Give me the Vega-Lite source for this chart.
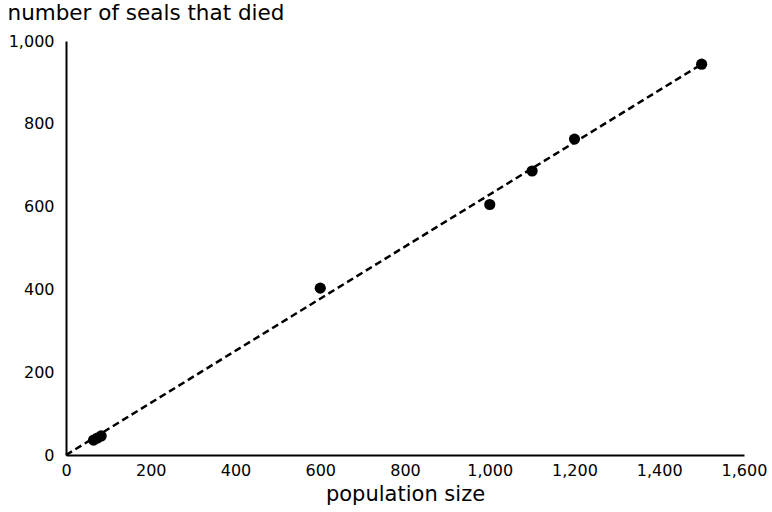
{
  "$schema": "https://vega.github.io/schema/vega-lite/v6.json",
  "width": 678,
  "height": 414,
  "autosize": "none",
  "padding": {"left": 66, "top": 41, "right": 28, "bottom": 57},
  "background": "white",
  "config": {
    "view": {"stroke": null},
    "font": "DejaVu Sans"
  },
  "datasets": {
    "seals": [
      {"population": 65, "died": 36},
      {"population": 74, "died": 41},
      {"population": 83, "died": 46},
      {"population": 600, "died": 403},
      {"population": 1000, "died": 605},
      {"population": 1100, "died": 686},
      {"population": 1200, "died": 763},
      {"population": 1500, "died": 944}
    ],
    "fit": [
      {"population": 0, "died": 0},
      {"population": 1500, "died": 944}
    ]
  },
  "layer": [
    {
      "data": {"name": "fit"},
      "mark": {"type": "line", "color": "black", "strokeWidth": 2.5, "strokeDash": [7, 4]},
      "encoding": {
        "x": {"field": "population", "type": "quantitative"},
        "y": {"field": "died", "type": "quantitative"}
      }
    },
    {
      "data": {"name": "seals"},
      "mark": {"type": "point", "filled": true, "color": "black", "opacity": 1, "size": 125},
      "encoding": {
        "x": {
          "field": "population",
          "type": "quantitative",
          "scale": {"domain": [0, 1600], "nice": false, "zero": true},
          "axis": {
            "title": "population size",
            "values": [0, 200, 400, 600, 800, 1000, 1200, 1400, 1600],
            "format": ",d",
            "grid": false,
            "ticks": false,
            "domainColor": "black",
            "domainWidth": 2,
            "labelFont": "DejaVu Sans",
            "labelFontSize": 16,
            "labelColor": "black",
            "labelPadding": 7,
            "labelFlush": false,
            "titleFont": "DejaVu Sans",
            "titleFontSize": 21,
            "titleFontWeight": "normal",
            "titleColor": "black",
            "titlePadding": 5
          }
        },
        "y": {
          "field": "died",
          "type": "quantitative",
          "scale": {"domain": [0, 1000], "nice": false},
          "axis": {
            "title": "number of seals that died",
            "values": [0, 200, 400, 600, 800, 1000],
            "format": ",d",
            "grid": false,
            "ticks": false,
            "domainColor": "black",
            "domainWidth": 2,
            "labelFont": "DejaVu Sans",
            "labelFontSize": 16,
            "labelColor": "black",
            "labelPadding": 12,
            "labelFlush": false,
            "titleFont": "DejaVu Sans",
            "titleFontSize": 21.5,
            "titleFontWeight": "normal",
            "titleColor": "black",
            "titleAngle": 0,
            "titleAlign": "left",
            "titleBaseline": "alphabetic",
            "titleX": -59,
            "titleY": -22
          }
        }
      }
    }
  ]
}
